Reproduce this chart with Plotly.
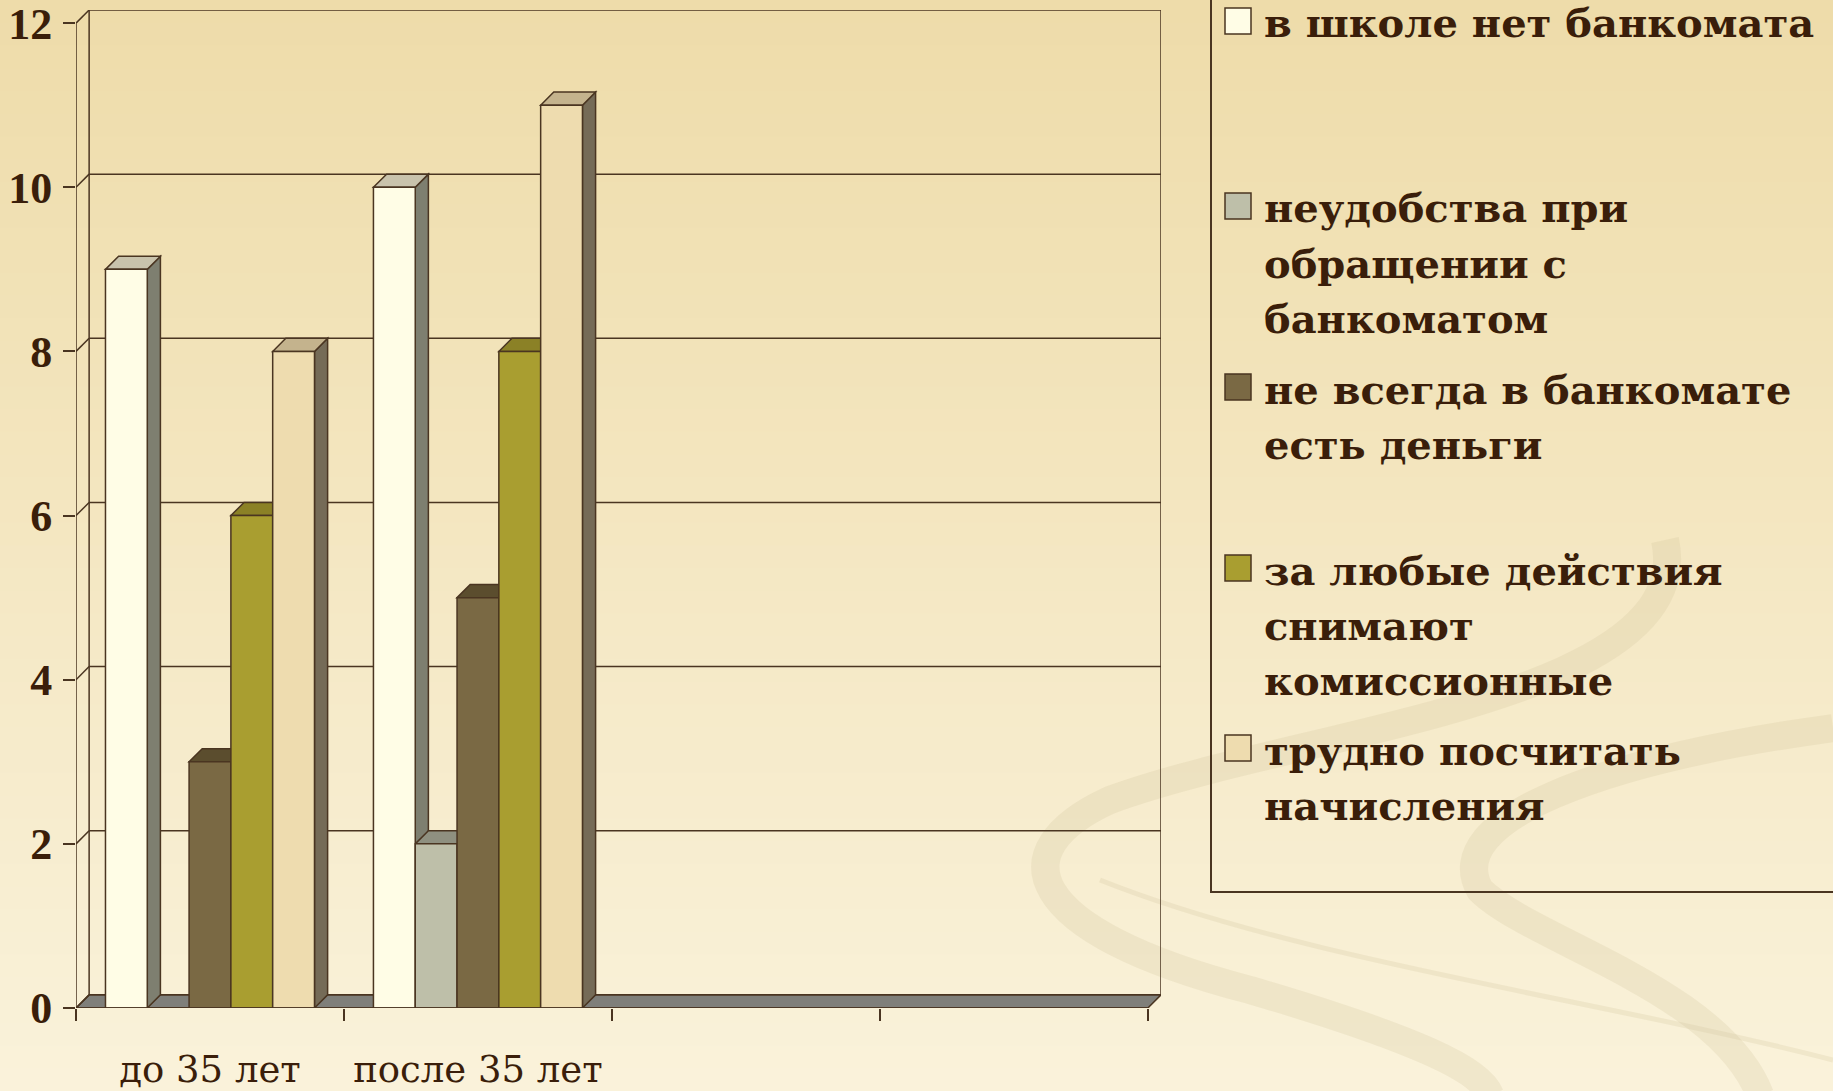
import plotly.graph_objects as go

# ---------------- data ----------------
categories = ["до 35 лет", "после 35 лет", "", ""]
series_names = [
    "в школе нет банкомата",
    "неудобства при обращении с банкоматом",
    "не всегда в банкомате есть деньги",
    "за любые действия снимают комиссионные",
    "трудно посчитать начисления",
]
legend_labels = [
    "в школе нет банкомата",
    "неудобства при<br>обращении с<br>банкоматом",
    "не всегда в банкомате<br>есть деньги",
    "за любые действия<br>снимают<br>комиссионные",
    "трудно посчитать<br>начисления",
]
s_no_atm = [9, 10, None, None]
s_inconvenient = [0, 2, None, None]
s_no_money = [3, 5, None, None]
s_commission = [6, 8, None, None]
s_hard_calc = [8, 11, None, None]
series_values = [s_no_atm, s_inconvenient, s_no_money, s_commission, s_hard_calc]
y_ticks = [0, 2, 4, 6, 8, 10, 12]

# ---------------- style ----------------
front_colors = ["#FFFDE6", "#BEBFA9", "#7A6944", "#A99E30", "#EEDCAF"]
top_colors = ["#C9C3AC", "#8F9080", "#5B4D2E", "#8B8126", "#C4B38D"]
side_colors = ["#7E7F70", "#7E7F70", "#5A4C30", "#7D7420", "#756B57"]
edge = "#4A3521"
text_col = "#3A1E0A"

W, H = 1833, 1091
PL, PR, PT, PB = 76, 1161, 10, 1008
DX, DY = 0.049, 0.16
XMIN, XMAX = -0.5, len(categories) - 0.5 + DX
YMAX = max(y_ticks) + DY
BARGAP = 0.22
NS = len(series_values)
BW = (1 - BARGAP) / NS


def pxx(px):
    return (px - PL) / (PR - PL)


def pxy(py):
    return 1 - (py - PT) / (PB - PT)


shapes = []

# background gradient
nb = 48
c0 = (238, 220, 170)
c1 = (250, 242, 218)
for k in range(nb):
    t = k / (nb - 1)
    col = tuple(int(round(c0[i] + (c1[i] - c0[i]) * t)) for i in range(3))
    y0 = k * H / nb
    y1 = (k + 1) * H / nb + 1
    shapes.append(dict(type="rect", xref="paper", yref="paper", layer="below",
                       x0=pxx(-5), x1=pxx(W + 5), y0=pxy(y1), y1=pxy(y0),
                       fillcolor="rgb(%d,%d,%d)" % col, line=dict(width=0)))

# decorative swirls (background)
def swirl(points, width, color):
    p = "M %f,%f" % (pxx(points[0][0]), pxy(points[0][1]))
    for i in range(1, len(points) - 2, 3):
        p += " C %f,%f %f,%f %f,%f" % (pxx(points[i][0]), pxy(points[i][1]),
                                       pxx(points[i + 1][0]), pxy(points[i + 1][1]),
                                       pxx(points[i + 2][0]), pxy(points[i + 2][1]))
    shapes.append(dict(type="path", xref="paper", yref="paper", layer="below", path=p,
                       line=dict(color=color, width=width)))

swirl([(1665, 540), (1700, 700), (1300, 730), (1110, 800),
       (1000, 850), (1020, 930), (1250, 990), (1420, 1040), (1480, 1070), (1490, 1095)],
      28, "rgba(205,190,150,0.22)")
swirl([(1833, 728), (1600, 760), (1440, 820), (1480, 890),
       (1530, 940), (1720, 990), (1760, 1095)], 28, "rgba(205,190,150,0.22)")
swirl([(1100, 880), (1300, 960), (1600, 1000), (1833, 1060)], 5, "rgba(205,190,150,0.22)")

# floor
shapes.append(dict(type="path", layer="below",
                   path="M %f,0 L %f,0 L %f,%f L %f,%f Z" % (XMIN, XMAX - DX, XMAX, DY, XMIN + DX, DY),
                   fillcolor="#7F7F7A", line=dict(color=edge, width=1.5)))
# back wall
for v in y_ticks:
    shapes.append(dict(type="line", layer="below", x0=XMIN + DX, x1=XMAX, y0=v + DY, y1=v + DY,
                       line=dict(color=edge, width=1.5)))
    shapes.append(dict(type="line", layer="below", x0=XMIN, x1=XMIN + DX, y0=v, y1=v + DY,
                       line=dict(color=edge, width=1.5)))
shapes.append(dict(type="line", layer="below", x0=XMIN + DX, x1=XMIN + DX, y0=DY, y1=YMAX,
                   line=dict(color=edge, width=1.5)))
shapes.append(dict(type="line", layer="below", x0=XMAX, x1=XMAX, y0=DY, y1=YMAX,
                   line=dict(color=edge, width=1.5)))

# 3D side and top faces of bars, derived from the data
sides, tops = [], []
for i in range(len(categories)):
    for j, vals in enumerate(series_values):
        v = vals[i]
        if v is None or v == 0:
            continue
        left = i - (1 - BARGAP) / 2 + j * BW
        right = left + BW
        sides.append(dict(type="path", layer="below",
                          path="M %f,0 L %f,%f L %f,%f L %f,%f Z" % (right, right, v, right + DX, v + DY, right + DX, DY),
                          fillcolor=side_colors[j], line=dict(color=edge, width=1.5)))
        tops.append(dict(type="path", layer="below",
                         path="M %f,%f L %f,%f L %f,%f L %f,%f Z" % (left, v, left + DX, v + DY, right + DX, v + DY, right, v),
                         fillcolor=top_colors[j], line=dict(color=edge, width=1.5)))
shapes += sides + tops

# front axes
shapes.append(dict(type="line", layer="above", x0=XMIN, x1=XMIN, y0=0, y1=max(y_ticks),
                   line=dict(color=edge, width=1.5)))
shapes.append(dict(type="line", layer="above", x0=XMIN, x1=XMAX - DX, y0=0, y1=0,
                   line=dict(color=edge, width=1.5)))

# manual legend
shapes.append(dict(type="rect", xref="paper", yref="paper", layer="above",
                   x0=pxx(1211), x1=pxx(1850), y0=pxy(892), y1=pxy(-10),
                   line=dict(color=edge, width=2), fillcolor="rgba(0,0,0,0)"))
annotations = []
legend_centers = [21, 206, 387, 568, 748]
LINE_H = 55
for j, lab in enumerate(legend_labels):
    c = legend_centers[j]
    shapes.append(dict(type="rect", xref="paper", yref="paper", layer="above",
                       x0=pxx(1225), x1=pxx(1251), y0=pxy(c + 13), y1=pxy(c - 13),
                       fillcolor=front_colors[j], line=dict(color=edge, width=1.5)))
    for li, line in enumerate(lab.split("<br>")):
        annotations.append(dict(xref="paper", yref="paper", x=pxx(1262), y=pxy(c + li * LINE_H + 2),
                                xanchor="left", yanchor="middle", align="left", showarrow=False,
                                text=line, font=dict(family="DejaVu Serif", size=40, color=text_col,
                                                     weight="bold")))

fig = go.Figure()
xs = list(range(len(categories)))
for j, vals in enumerate(series_values):
    fig.add_trace(go.Bar(x=xs, y=vals, name=series_names[j],
                         marker=dict(color=front_colors[j], line=dict(color=edge, width=1.5)),
                         showlegend=False))

fig.update_layout(
    width=W, height=H,
    margin=dict(l=PL, r=W - PR, t=PT, b=H - PB, pad=0, autoexpand=False),
    barmode="group", bargap=BARGAP, bargroupgap=0,
    paper_bgcolor="#F5E8C6", plot_bgcolor="rgba(0,0,0,0)",
    shapes=shapes, annotations=annotations,
    xaxis=dict(range=[XMIN, XMAX], tickvals=xs, ticktext=categories, ticks="",
               showgrid=False, zeroline=False, showline=False, automargin=False,
               ticklabelstandoff=36, ticklabeloverflow="allow",
               tickfont=dict(family="DejaVu Serif", size=37, color=text_col),
               minor=dict(tickvals=[k - 0.5 for k in range(len(categories) + 1)],
                          ticks="outside", ticklen=12, tickwidth=1.5, tickcolor=edge)),
    yaxis=dict(range=[0, YMAX], tickvals=y_ticks, ticks="outside", ticklen=12,
               tickwidth=1.5, tickcolor=edge, showgrid=False, zeroline=False, showline=False,
               automargin=False, ticklabelstandoff=2, ticklabeloverflow="allow",
               tickfont=dict(family="Liberation Serif", size=44, color=text_col, weight="bold")),
)

fig.write_html("out.html", config={"displayModeBar": False},
               post_script="document.body.style.margin='0';document.body.style.overflow='hidden';")
